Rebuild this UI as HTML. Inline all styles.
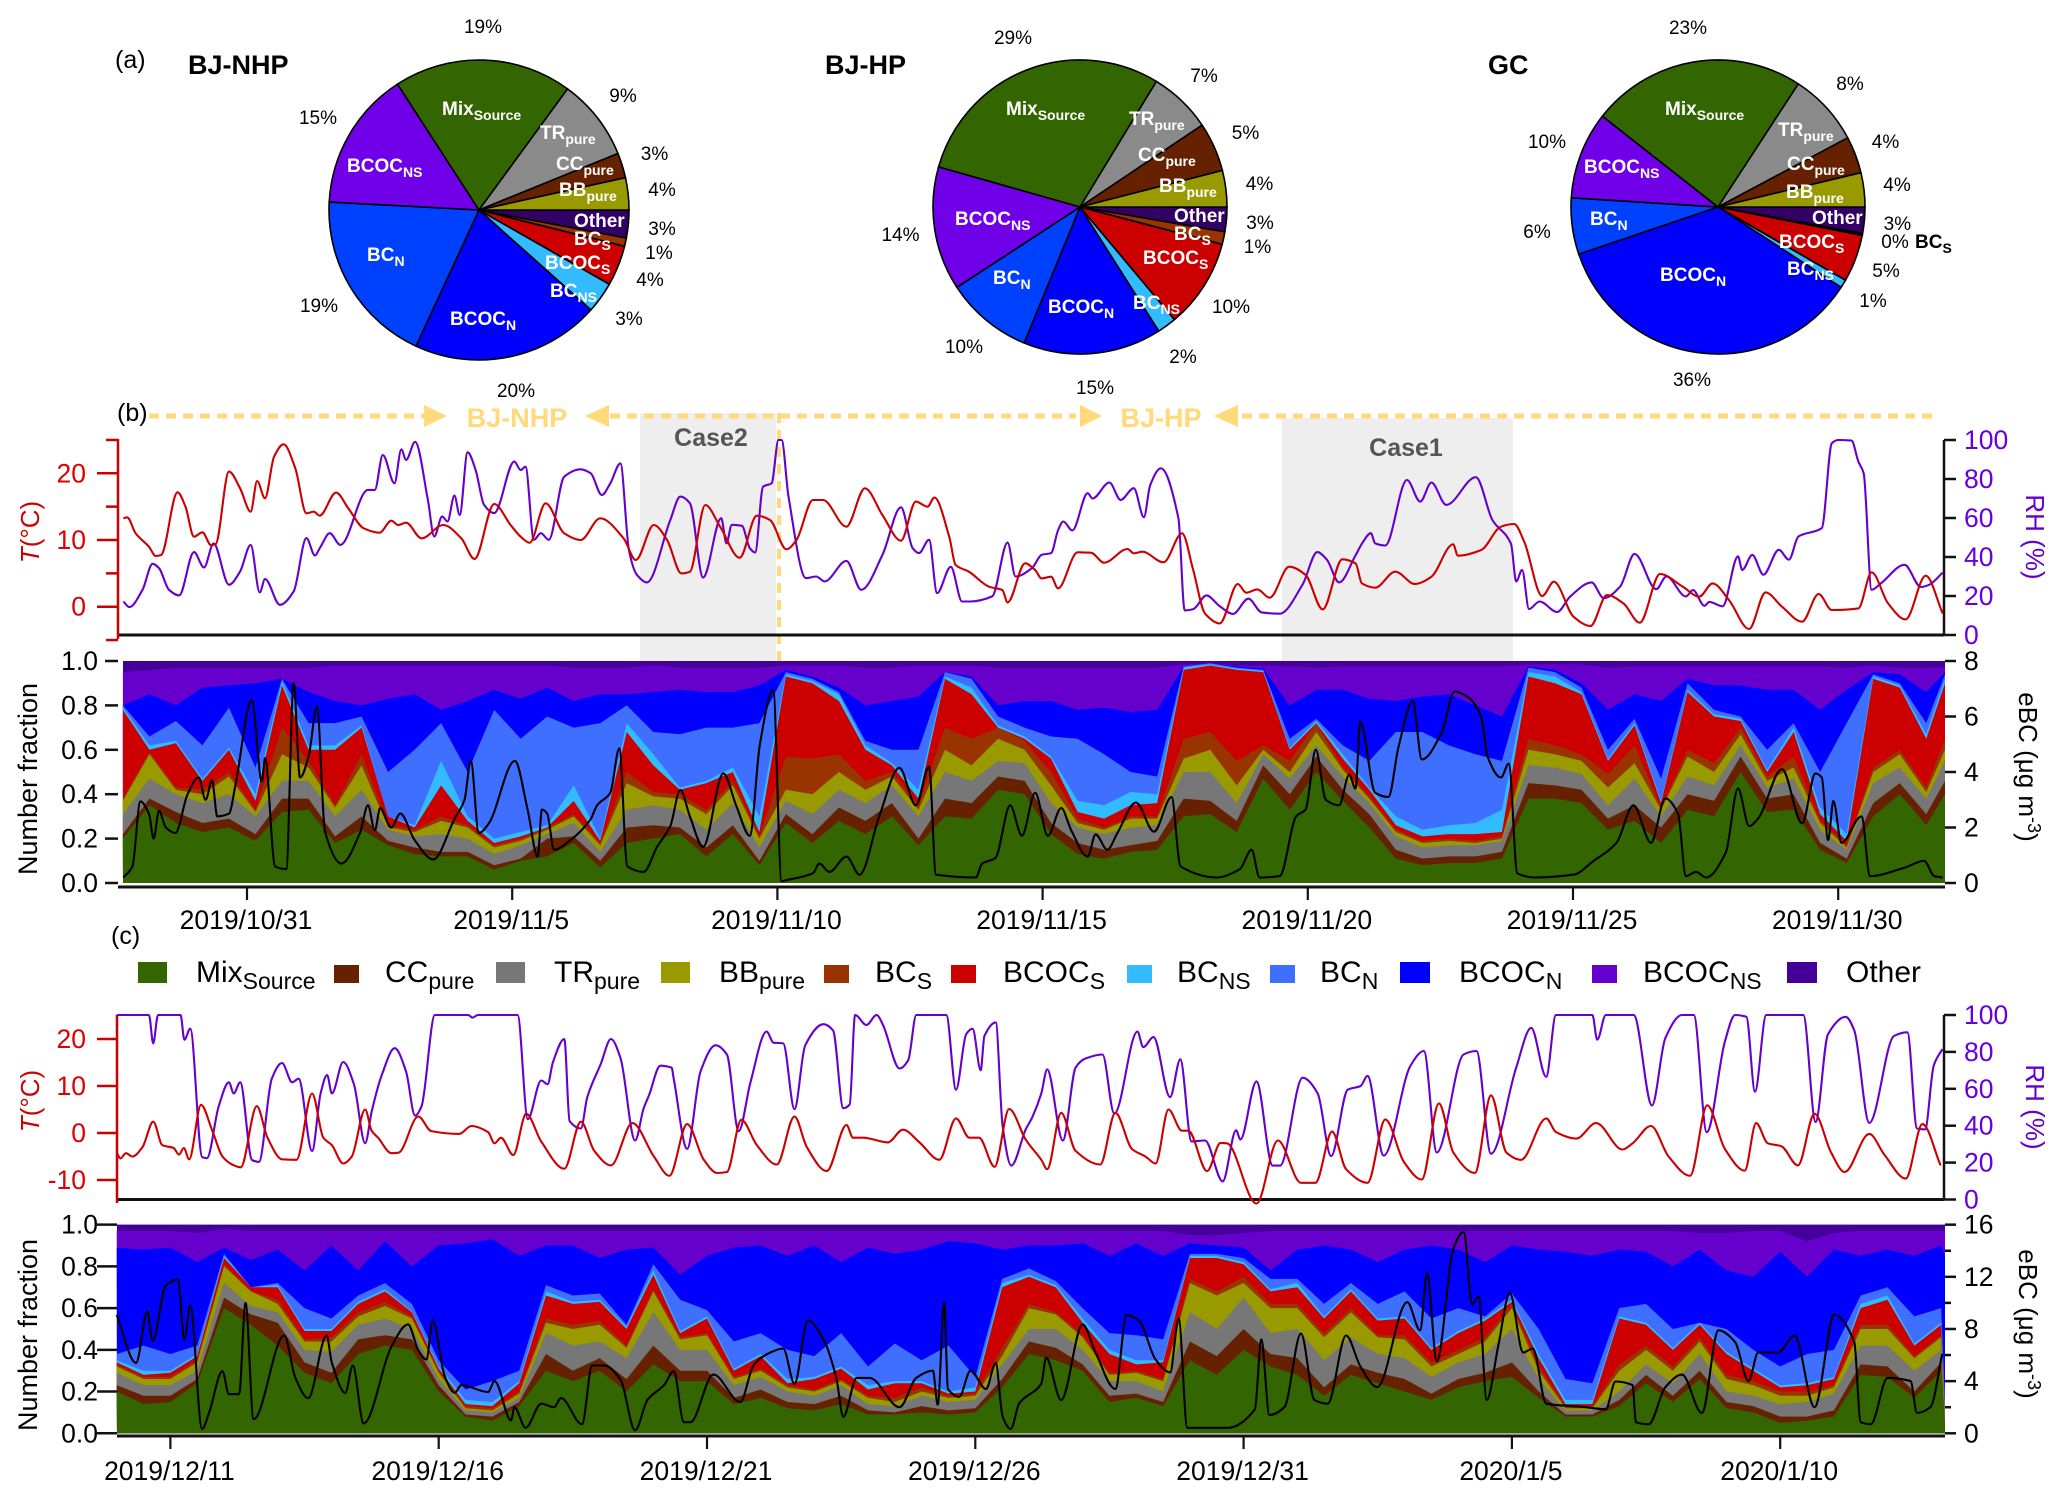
<!DOCTYPE html>
<html lang="en"><head><meta charset="utf-8"><title>BC mixing state time series</title>
<style>
html,body{margin:0;padding:0;background:#fff}
svg{display:block}
text{font-family:"Liberation Sans",sans-serif}
.pc{font-size:19px;fill:#000;text-anchor:middle}
.sl{font-size:19px;font-weight:bold;fill:#fff}
.sl tspan{font-size:14px}
.ttl{font-size:27px;font-weight:bold;fill:#000}
.pl{font-size:25px;fill:#000}
.leg{font-size:30px;fill:#000}
.leg tspan{font-size:23px}
.tick{font-size:26.5px;fill:#000}
.yel{font-size:27px;font-weight:bold;fill:#ffd97a;text-anchor:middle}
.case{font-size:25px;font-weight:bold;fill:#555;text-anchor:middle}
.axt{font-size:26px;text-anchor:middle}
</style></head><body>
<svg id="fig" xmlns="http://www.w3.org/2000/svg" width="2067" height="1499" viewBox="0 0 2067 1499">
<g id="pies"></g>
<g>
<text class="pl" x="115" y="68">(a)</text>
<text class="ttl" x="188" y="74">BJ-NHP</text>
<text class="ttl" x="825" y="74">BJ-HP</text>
<text class="ttl" x="1488" y="74">GC</text>
</g>
<g>
<text class="sl" x="442" y="115">Mix<tspan dy="5">Source</tspan></text>
<text class="sl" x="540" y="139">TR<tspan dy="5">pure</tspan></text>
<text class="sl" x="556" y="170">CC<tspan dy="5">pure</tspan></text>
<text class="sl" x="559" y="196">BB<tspan dy="5">pure</tspan></text>
<text class="sl" x="574" y="227">Other</text>
<text class="sl" x="574" y="245">BC<tspan dy="5">S</tspan></text>
<text class="sl" x="545" y="269">BCOC<tspan dy="5">S</tspan></text>
<text class="sl" x="550" y="297">BC<tspan dy="5">NS</tspan></text>
<text class="sl" x="450" y="325">BCOC<tspan dy="5">N</tspan></text>
<text class="sl" x="367" y="261">BC<tspan dy="5">N</tspan></text>
<text class="sl" x="347" y="172">BCOC<tspan dy="5">NS</tspan></text>
</g>
<g>
<text class="sl" x="1006" y="115">Mix<tspan dy="5">Source</tspan></text>
<text class="sl" x="1129" y="125">TR<tspan dy="5">pure</tspan></text>
<text class="sl" x="1138" y="161">CC<tspan dy="5">pure</tspan></text>
<text class="sl" x="1159" y="192">BB<tspan dy="5">pure</tspan></text>
<text class="sl" x="1174" y="222">Other</text>
<text class="sl" x="1174" y="240">BC<tspan dy="5">S</tspan></text>
<text class="sl" x="1143" y="264">BCOC<tspan dy="5">S</tspan></text>
<text class="sl" x="1133" y="309">BC<tspan dy="5">NS</tspan></text>
<text class="sl" x="1048" y="313">BCOC<tspan dy="5">N</tspan></text>
<text class="sl" x="993" y="284">BC<tspan dy="5">N</tspan></text>
<text class="sl" x="955" y="225">BCOC<tspan dy="5">NS</tspan></text>
</g>
<g>
<text class="sl" x="1665" y="115">Mix<tspan dy="5">Source</tspan></text>
<text class="sl" x="1778" y="136">TR<tspan dy="5">pure</tspan></text>
<text class="sl" x="1787" y="170">CC<tspan dy="5">pure</tspan></text>
<text class="sl" x="1786" y="198">BB<tspan dy="5">pure</tspan></text>
<text class="sl" x="1812" y="224">Other</text>
<text class="sl" x="1779" y="248">BCOC<tspan dy="5">S</tspan></text>
<text class="sl" x="1787" y="275">BC<tspan dy="5">NS</tspan></text>
<text class="sl" x="1660" y="281">BCOC<tspan dy="5">N</tspan></text>
<text class="sl" x="1590" y="225">BC<tspan dy="5">N</tspan></text>
<text class="sl" x="1584" y="173">BCOC<tspan dy="5">NS</tspan></text>
<text class="sl" style="fill:#000" x="1915" y="248">BC<tspan dy="5">S</tspan></text>
</g>
<g id="pct"></g>

<rect x="640" y="413" width="136" height="248" fill="#eeeeee"/>
<rect x="1282" y="418" width="231" height="243" fill="#eeeeee"/>
<line x1="779" y1="413" x2="779" y2="661" stroke="#ffd97a" stroke-width="4" stroke-dasharray="10 7"/>
<g>
<line x1="149" y1="416" x2="426" y2="416" stroke="#ffd97a" stroke-width="5" stroke-dasharray="10 7"/>
<polygon points="424,405 447,416 424,427" fill="#ffd97a"/>
<text class="yel" x="517" y="427">BJ-NHP</text>
<polygon points="609,405 585,416 609,427" fill="#ffd97a"/>
<line x1="610" y1="416" x2="1076" y2="416" stroke="#ffd97a" stroke-width="5" stroke-dasharray="10 7"/>
<polygon points="1080,405 1102,416 1080,427" fill="#ffd97a"/>
<text class="yel" x="1161" y="427">BJ-HP</text>
<polygon points="1238,405 1214,416 1238,427" fill="#ffd97a"/>
<line x1="1242" y1="416" x2="1932" y2="416" stroke="#ffd97a" stroke-width="5" stroke-dasharray="10 7"/>
</g>
<text class="pl" x="117" y="421">(b)</text>
<text class="pl" x="111" y="944">(c)</text>
<text class="case" x="711" y="446">Case2</text>
<text class="case" x="1406" y="456">Case1</text>

<g id="stackB"></g>
<g id="stackC"></g>
<g id="axes"></g>
<g id="linesB"></g>
<g id="linesC"></g>

<g>
<text class="axt" fill="#cc0000" transform="translate(39,532) rotate(-90)"><tspan font-style="italic">T</tspan>(°C)</text>
<text class="axt" fill="#6600cc" transform="translate(2026,537) rotate(90)">RH (%)</text>
<text class="axt" fill="#000" style="font-size:27px" transform="translate(37,779) rotate(-90)">Number fraction</text>
<text class="axt" fill="#000" transform="translate(2019,767) rotate(90)">eBC (μg m<tspan dy="-9" font-size="18">-3</tspan><tspan dy="9">)</tspan></text>
<text class="axt" fill="#cc0000" transform="translate(39,1101) rotate(-90)"><tspan font-style="italic">T</tspan>(°C)</text>
<text class="axt" fill="#6600cc" transform="translate(2026,1107) rotate(90)">RH (%)</text>
<text class="axt" fill="#000" style="font-size:27px" transform="translate(37,1335) rotate(-90)">Number fraction</text>
<text class="axt" fill="#000" transform="translate(2019,1324) rotate(90)">eBC (μg m<tspan dy="-9" font-size="18">-3</tspan><tspan dy="9">)</tspan></text>
</g>

<g>
<rect x="138" y="962" width="29" height="21" fill="#336600"/>
<text class="leg" x="196" y="982">Mix<tspan dy="7">Source</tspan></text>
<rect x="334" y="965" width="25" height="18" fill="#662200"/>
<text class="leg" x="385" y="982">CC<tspan dy="7">pure</tspan></text>
<rect x="496" y="962" width="29" height="21" fill="#777777"/>
<text class="leg" x="554" y="982">TR<tspan dy="7">pure</tspan></text>
<rect x="661" y="962" width="29" height="21" fill="#999900"/>
<text class="leg" x="719" y="982">BB<tspan dy="7">pure</tspan></text>
<rect x="824" y="965" width="25" height="18" fill="#993300"/>
<text class="leg" x="875" y="982">BC<tspan dy="7">S</tspan></text>
<rect x="951" y="965" width="25" height="18" fill="#cc0000"/>
<text class="leg" x="1003" y="982">BCOC<tspan dy="7">S</tspan></text>
<rect x="1127" y="965" width="25" height="18" fill="#33bbff"/>
<text class="leg" x="1177" y="982">BC<tspan dy="7">NS</tspan></text>
<rect x="1270" y="965" width="25" height="18" fill="#3f6fff"/>
<text class="leg" x="1320" y="982">BC<tspan dy="7">N</tspan></text>
<rect x="1400" y="962" width="30" height="21" fill="#0000ff"/>
<text class="leg" x="1459" y="982">BCOC<tspan dy="7">N</tspan></text>
<rect x="1592" y="965" width="25" height="18" fill="#6600cc"/>
<text class="leg" x="1643" y="982">BCOC<tspan dy="7">NS</tspan></text>
<rect x="1787" y="962" width="30" height="21" fill="#440099"/>
<text class="leg" x="1846" y="982">Other</text>
</g>
</svg>
<script>
// ---------- pie data (unrounded shares measured from the slices, clockwise from east) ----------
const pieClasses=["Other","BCs","BCOCs","BCNS","BCOCN","BCN","BCOCNS","Mix","TR","CC","BB"];
const pie1Values=[3,.9,4.35,3.35,20.3,18.95,15,19.2,8.8,2.7,3.45];
const pie2Values=[2.7,1.4,9.8,2.1,15.2,9.6,13.6,29.3,6.9,5.4,4];
const pie3Values=[2.9,.2,5.2,.9,35.6,6.2,9.6,23.6,8,4.05,3.75];

// ---------- panel b: temperature, RH, eBC (day offset from 2019/10/31) ----------
const bTempDays=[-2.33,-2.26,-2.10,-1.85,-1.72,-1.62,-1.31,-1.16,-1.0,-.84,-.68,-.59,-.34,-.13,.07,.19,.34,.51,.69,.91,1.12,1.26,1.37,1.68,1.91,2.2,2.5,2.72,2.85,3.0,3.29,3.7,4.04,4.29,4.66,4.97,5.16,5.33,5.63,5.98,6.29,6.66,7.1,7.33,7.67,7.92,8.19,8.35,8.64,8.92,9.29,9.61,9.86,10.17,10.36,10.67,10.86,11.3,11.65,11.98,12.33,12.61,12.83,12.96,13.24,13.36,13.61,13.99,14.24,14.34,14.67,14.86,14.98,15.16,15.29,15.66,15.91,16.16,16.6,16.72,16.88,17.28,17.63,17.84,18.06,18.34,18.68,18.84,19.05,19.28,19.65,19.96,20.28,20.65,20.9,21.02,21.27,21.65,22.02,22.33,22.74,22.83,23.27,23.64,23.89,24.08,24.42,24.64,25.01,25.33,25.64,25.95,26.26,26.64,27.07,27.38,27.63,27.94,28.32,28.63,28.94,29.32,29.63,29.88,30.38,30.63,30.94,31.27,31.65,31.97];
const bTemp=[13.25,13.4,11,9,7.6,7.75,17.15,15,10.5,11.15,9.25,9.4,20.25,17.75,14.25,18.85,16.25,22.5,24.35,20.75,14,14.25,13.65,17.1,14.75,11.75,11.1,12.9,12.25,12.6,10.25,12.25,10.25,7.15,15.4,12.25,10.5,9.6,15.5,11,10,13.25,10.25,7,12.25,10,5,5.25,15.25,12,7.35,13.65,13,8.6,10,16,16,12,17.75,13.75,9.9,15.75,15,16.35,10.5,6.25,5.25,3,2.5,.65,6.5,5.5,4.25,4.5,2.75,8.15,8.1,6.6,8.65,8,8.25,6.65,11,5.5,-1,-2.5,3.4,2.1,2.6,1.35,6,4.75,-.4,7.1,6.5,3.5,2.85,5.25,3.4,4.5,9.35,7.65,8.5,12,12.4,9.75,1.6,3.75,-1.5,-2.9,1.75,.5,-2.4,4.9,3,1.5,3.5,1,-3.35,2.15,0,-2.25,1.9,-.5,-.25,5.15,.5,-1.9,4.65,-1];
const bRhDays=[-2.33,-2.22,-1.97,-1.78,-1.66,-1.47,-1.28,-1,-.81,-.63,-.34,-.13,.07,.24,.34,.62,.88,1.12,1.28,1.38,1.56,1.76,2.28,2.41,2.56,2.78,2.91,3.0,3.17,3.41,3.53,3.68,3.78,3.91,4.01,4.16,4.31,4.47,4.66,5.04,5.16,5.25,5.41,5.54,5.69,5.98,6.29,6.48,6.69,6.85,7.04,7.2,7.35,7.54,7.98,8.17,8.35,8.6,8.94,9.04,9.14,9.33,9.48,9.58,9.73,9.89,10.02,10.08,10.21,10.54,10.73,10.89,11.3,11.58,11.98,12.33,12.55,12.67,12.86,13.01,13.27,13.48,13.63,14.05,14.34,14.49,14.8,14.98,15.16,15.29,15.39,15.56,15.85,15.94,16.26,16.47,16.72,16.91,17.03,17.23,17.56,17.68,17.84,18.09,18.34,18.59,18.88,19.13,19.47,19.9,20.18,20.36,20.59,20.9,21.02,21.19,21.27,21.46,21.87,22.12,22.33,22.61,23.17,23.48,23.83,23.93,24.04,24.17,24.37,24.7,24.95,25.35,25.58,25.89,26.16,26.57,26.76,27.13,27.26,27.48,27.57,27.82,28.11,28.19,28.38,28.59,28.88,29.07,29.25,29.69,29.88,30,30.25,30.38,30.48,30.63,30.81,31.25,31.56,31.72,31.97];
const bRh=[17.2,14.3,23.2,36.5,34.3,23.2,20.3,42.5,34.6,47,25.8,32.6,46.2,21.8,28.7,15.5,22.4,49.7,40.8,44.9,52.2,46.2,74.4,74.4,92.3,77.8,95.2,89.8,99.1,69.3,50.5,60.8,58.2,71.5,61.6,93.7,84.6,66.7,62.5,88.9,84.6,86.3,48.8,52.2,48.8,81.2,85,82.9,71.8,77.8,88,43.7,30.9,27,59,71,67.6,29.5,59.9,47,56.5,56,44.5,42.3,76.1,77.8,100,100,71,29.2,30,27.5,38,23.2,41,65.5,44.5,42,48.8,21.5,35,17.2,17.2,19.8,47.4,30,34.3,41.1,42,53.6,58.2,53.6,72.7,70,78.2,69.3,75.3,60.4,77,85.5,59.9,12.6,13.3,20.3,14.7,10.8,18.6,11.6,10.9,25.8,42.5,38.6,27,40.8,46.8,52.2,47,45.9,79.5,68.4,78.2,66.7,80.9,59,47,27.5,33.4,13.3,17.2,11.8,19.8,27,18.9,24.9,41.6,23.5,30,19.8,23,15,17,14.7,40.3,33.4,41.1,30.9,43.7,38.6,50.5,54.8,98.3,100,99.7,88.9,82.9,23.2,26.6,36,24.6,25.8,32];
const bEbcDays=[-2.33,-2.16,-2.01,-1.85,-1.76,-1.66,-1.53,-1.35,-1.12,-.91,-.78,-.66,-.56,-.34,-.22,.09,.28,.34,.53,.74,.88,1.0,1.16,1.32,1.47,1.78,2.13,2.28,2.41,2.51,2.72,2.89,3.16,3.51,3.91,4.1,4.22,4.37,4.56,5.05,5.29,5.48,5.56,5.66,5.79,6.1,6.48,6.6,6.85,7.02,7.17,7.48,7.73,7.98,8.17,8.35,8.6,8.98,9.23,9.48,9.67,9.92,10.08,10.17,10.67,10.79,10.98,11.3,11.55,11.92,12.3,12.61,12.86,12.99,13.74,13.86,14.11,14.39,14.61,14.86,15.1,15.35,15.54,15.85,16.0,16.22,16.41,16.76,17.1,17.43,17.6,18.28,18.72,18.94,19.09,19.47,19.78,19.96,20.15,20.34,20.59,20.78,20.9,20.99,21.27,21.52,21.71,21.98,22.15,22.52,22.77,23.02,23.27,23.39,23.64,23.79,23.95,24.27,25.01,25.39,25.82,26.14,26.47,26.74,26.98,27.13,27.32,27.51,27.88,28.11,28.32,28.5,28.94,29.32,29.57,29.69,29.81,29.91,30.06,30.44,30.6,31.25,31.62,31.81,31.97];
const bEbc=[.2,.6,2.94,2.5,1.6,2.6,2.0,1.8,3.2,3.8,3,3.7,2.4,2.5,3.5,6.6,3.65,4.5,.6,.5,7.2,3.8,4.55,6.35,1.85,.7,1.8,2.8,1.9,2.7,2,2.5,1.55,.85,2.3,3,4.4,1.8,2.15,4.4,2.65,.95,2.65,2.5,1.2,1.55,2.3,2.8,3.25,4.85,.6,.4,1.3,2.05,3.35,2.4,1.3,3.95,2.75,1.7,5,6.95,.06,.1,.35,.7,.4,.95,.3,2.4,4.15,2.8,4.2,.3,.2,.7,.9,2.8,1.7,3.25,1.7,2.7,1.9,.95,1.75,1.2,1.8,2.9,1.85,3.1,.6,.2,.5,1.2,.2,.25,2.4,2.65,4.8,3,2.8,3.9,3.4,5.8,3.25,3.1,4.9,6.55,4.45,5.4,6.9,6.7,6,4.55,3.8,4.3,.35,.2,.3,.8,1.45,2.8,1.45,3.05,2.5,.25,.4,.2,1.1,3.4,2.05,2.35,4.1,2.15,3.95,3.8,1.55,2.95,1.45,2.4,.25,.55,.8,.25,.2];

// panel b stack: cumulative upper edge of each class, sampled every half day
const bStackStart=-2.34;
const bMix=[.20,.35,.27,.23,.25,.19,.32,.33,.18,.24,.17,.13,.12,.12,.06,.10,.12,.18,.07,.18,.20,.22,.12,.22,.08,.27,.18,.28,.22,.30,.17,.30,.29,.42,.40,.22,.13,.11,.14,.15,.30,.31,.23,.47,.33,.50,.37,.25,.11,.08,.09,.09,.11,.38,.38,.36,.24,.28,.18,.33,.30,.50,.32,.33,.15,.09,.30,.40,.26,.40];
const bCc=[.22,.38,.32,.27,.29,.22,.38,.38,.21,.30,.19,.16,.14,.14,.08,.11,.20,.21,.10,.25,.26,.25,.16,.26,.10,.31,.22,.34,.28,.36,.20,.38,.36,.48,.46,.27,.18,.15,.17,.19,.38,.37,.28,.53,.40,.57,.42,.31,.15,.11,.12,.12,.14,.45,.44,.42,.29,.35,.25,.40,.37,.57,.38,.40,.18,.11,.36,.45,.31,.46];
const bTr=[.31,.47,.40,.36,.40,.30,.46,.46,.30,.42,.24,.21,.22,.20,.13,.17,.22,.27,.14,.33,.35,.33,.24,.36,.16,.37,.31,.42,.36,.44,.30,.50,.46,.55,.54,.36,.25,.22,.25,.26,.50,.50,.36,.58,.47,.62,.48,.36,.21,.16,.17,.17,.19,.53,.52,.49,.35,.47,.30,.48,.44,.62,.43,.47,.24,.15,.45,.52,.38,.55];
const bBb=[.37,.58,.42,.40,.48,.32,.58,.52,.34,.53,.25,.23,.28,.25,.16,.19,.24,.30,.17,.45,.39,.38,.31,.44,.20,.42,.40,.50,.42,.48,.33,.60,.53,.65,.60,.44,.27,.24,.29,.29,.56,.60,.44,.60,.50,.68,.51,.38,.23,.18,.19,.18,.20,.60,.58,.55,.43,.54,.33,.57,.50,.67,.46,.52,.27,.16,.50,.58,.41,.60];
const bBcs=[.38,.59,.43,.42,.50,.33,.70,.55,.35,.58,.26,.24,.30,.26,.17,.20,.25,.31,.18,.50,.41,.40,.33,.46,.21,.57,.56,.58,.46,.50,.35,.70,.65,.70,.64,.50,.29,.25,.30,.30,.65,.68,.55,.62,.55,.72,.52,.39,.24,.19,.20,.19,.21,.65,.62,.58,.49,.62,.34,.60,.54,.70,.48,.57,.28,.17,.52,.60,.43,.65];
const bBcocs=[.78,.60,.63,.46,.60,.37,.89,.60,.60,.70,.30,.25,.44,.28,.18,.21,.25,.37,.19,.68,.53,.42,.45,.50,.23,.93,.90,.82,.60,.53,.38,.92,.85,.70,.65,.56,.32,.29,.35,.36,.96,.98,.96,.95,.60,.72,.56,.42,.26,.21,.22,.22,.23,.93,.90,.85,.55,.71,.36,.86,.75,.73,.50,.68,.31,.19,.92,.88,.65,.90];
const bBcns=[.79,.62,.64,.47,.61,.40,.91,.62,.62,.71,.30,.26,.55,.30,.20,.23,.26,.44,.20,.72,.58,.43,.46,.52,.30,.94,.91,.85,.62,.54,.42,.93,.88,.71,.66,.57,.37,.35,.41,.40,.97,.985,.965,.955,.61,.73,.58,.43,.30,.24,.26,.27,.33,.95,.93,.86,.56,.72,.37,.87,.76,.74,.51,.70,.34,.22,.93,.89,.67,.92];
const bBcn=[.80,.66,.73,.62,.79,.52,.92,.72,.72,.75,.50,.60,.72,.50,.78,.65,.75,.70,.72,.80,.68,.67,.70,.70,.72,.95,.92,.86,.64,.60,.60,.95,.92,.75,.70,.66,.65,.58,.50,.48,.975,.99,.97,.96,.65,.74,.62,.55,.68,.68,.62,.58,.55,.97,.95,.88,.60,.74,.47,.90,.78,.75,.60,.72,.50,.72,.94,.90,.72,.94];
const bBcocn=[.80,.85,.80,.88,.89,.90,.92,.86,.82,.80,.83,.85,.78,.82,.87,.83,.88,.82,.85,.85,.86,.87,.86,.86,.89,.96,.93,.88,.80,.82,.84,.95,.93,.80,.82,.82,.78,.79,.77,.78,.975,.99,.975,.965,.80,.87,.87,.83,.82,.84,.85,.80,.75,.975,.96,.90,.78,.85,.82,.92,.89,.89,.87,.87,.78,.87,.95,.94,.86,.95];
const bBcocns=[.95,.96,.97,.97,.97,.97,.97,.97,.98,.98,.98,.98,.98,.98,.98,.98,.98,.97,.97,.97,.98,.97,.97,.97,.97,.98,.98,.98,.97,.97,.98,.98,.98,.97,.97,.97,.97,.97,.97,.97,.985,.99,.98,.98,.975,.97,.975,.975,.975,.975,.975,.975,.975,.985,.985,.985,.97,.975,.975,.975,.975,.975,.975,.975,.975,.97,.98,.97,.97,.97];

// ---------- panel c: temperature, RH, eBC (day offset from 2019/12/11) ----------
const cTempDays=[-1.0,-.93,-.83,-.71,-.52,-.32,-.15,.06,.16,.25,.35,.57,.78,.97,1.15,1.31,1.61,1.81,2.08,2.35,2.64,2.85,3.01,3.22,3.38,3.63,3.75,3.87,4.12,4.25,4.62,4.86,5.38,5.61,5.92,6.04,6.16,6.39,6.63,6.91,7.34,7.65,7.9,8.21,8.61,9.01,9.3,9.63,9.94,10.19,10.37,10.64,10.93,11.3,11.63,11.86,12.23,12.6,12.72,12.91,13.37,13.65,13.96,14.33,14.64,14.89,15.07,15.36,15.63,15.94,16.23,16.34,16.6,16.87,17.33,17.61,17.92,18.17,18.36,18.6,18.85,18.97,19.32,19.57,19.69,20.24,20.64,21.07,21.34,21.65,21.91,22.31,22.64,22.99,23.32,23.64,23.91,24.31,24.61,24.9,25.17,25.64,25.82,26.2,26.57,27.06,27.25,27.59,27.92,28.32,28.64,28.97,29.34,29.55,29.77,30.02,30.33,30.64,30.95,31.2,31.66,31.94,32.34,32.65,32.99];
const cTemp=[-4.2,-5.4,-4.3,-5,-3,2.4,-2.6,-3.2,-4.6,-3.2,-5.6,6,.5,-5,-6.7,-7.3,5.7,-1,-5.6,-5.7,8.4,-1,-2.6,-6.5,-5,5,.5,-1,-4.3,-4.2,3.5,.4,-.2,1.5,.2,-2.2,-1,-4.7,4.1,-1.8,-7.6,2.4,-3.8,-6.9,2.1,-5,-9.1,1.9,-5.7,-8.5,-8.3,2.8,-2.6,-6.7,3.5,-3,-8.1,1.7,-1,-1,-2,.7,-2,-5.7,3.1,-1,-1,-7.2,5.1,-1.4,-5.7,-7.7,4.3,-3.8,-6.7,4.3,-3.4,-5,-6.5,5,.5,.5,-8.1,-2.1,-2.2,-15,-1.6,-10.6,-10.6,.3,-7.7,-10.6,2.9,-6.2,-9.9,6.3,-4.2,-8.5,8,-4.2,-5.7,3.1,.2,-1.2,2.1,-3.5,-2.2,1.5,-5,-9.1,5.9,-3.4,-8,2.1,-2.2,-2.8,-6.9,4.1,-4.2,-8.3,-.2,-4.6,-9.7,1.9,-6.9];
const cRhDays=[-1,-.4,-.32,-.23,.19,.26,.37,.59,.68,.9,1.09,1.18,1.3,1.52,1.65,1.89,2.08,2.27,2.39,2.64,2.8,2.92,3.01,3.22,3.42,3.63,3.75,3.94,4.18,4.39,4.56,4.68,4.93,5.55,5.63,5.73,6.47,6.66,6.91,7.03,7.13,7.34,7.44,7.65,7.77,8.02,8.21,8.39,8.66,8.82,8.92,9.13,9.34,9.38,9.63,9.88,10.16,10.37,10.59,10.81,11.11,11.24,11.42,11.63,11.83,12.17,12.35,12.54,12.66,12.76,12.97,13.16,13.28,13.59,13.75,13.9,14.46,14.64,14.83,14.95,15.1,15.17,15.38,15.51,15.67,15.94,16.06,16.23,16.34,16.63,16.87,17.06,17.37,17.59,18.02,18.13,18.32,18.63,18.82,19.03,19.28,19.61,19.86,19.94,20.24,20.54,20.68,21.1,21.38,21.63,21.94,22.18,22.31,22.61,23.11,23.36,23.6,24.1,24.34,24.61,25.08,25.36,25.64,25.82,26.5,26.59,26.75,27.27,27.61,27.86,28.17,28.39,28.63,28.97,29.16,29.37,29.53,29.74,30.43,30.66,30.89,31.22,31.38,31.66,32.12,32.37,32.55,32.7,32.86,33.02];
const cRh=[100,100,84.6,100,100,86.6,92.6,23,22.4,50.5,63.5,57.5,63.5,21.4,20.4,65.5,74,63.5,65.5,26.3,57.5,67.5,57.5,74.5,62.5,30.5,47.5,67.5,82,69.5,45.5,50.5,100,100,98.6,100,100,43.5,64.5,62.5,74.5,87,42.5,38.5,55.5,73.5,87,76.5,32,49.5,56.5,72.5,71.5,65.5,27.5,69.5,83.6,78.6,37,63.5,91,85,84.6,49,83.6,95,91.6,49.5,51.5,100,94.6,100,94.6,71,75.5,100,100,59.5,89.6,92.6,70,88.6,96,39.5,18.4,38,44.5,57.5,70.5,32,71.5,76.5,78.6,46.5,91,82.6,88,55.5,76,31.5,32,9.8,37.5,32.5,64,18.4,18.4,66,57.5,23.5,59.5,61.5,67,23.8,72.5,80.5,25.5,78.6,80.5,24.8,71.5,93,66.5,100,100,86.6,100,100,51,87.6,100,100,36.5,85.6,100,99,58.5,100,100,42,89.6,99,91.6,41.5,88.6,90.6,38.5,38,72.5,81.5];
const cEbcDays=[-1,-.64,-.43,-.33,-.09,.14,.26,.37,.59,.72,.97,1.09,1.28,1.4,1.55,2.12,2.33,2.57,2.91,3.01,3.26,3.4,3.6,4.12,4.43,4.62,4.77,4.89,5.11,5.3,5.42,5.92,6.04,6.35,6.41,6.62,6.91,7.15,7.28,7.67,7.86,8.08,8.39,8.66,8.89,9.2,9.38,9.57,9.69,10.12,10.62,10.87,11.18,11.42,11.63,11.88,12.17,12.41,12.54,12.79,13.03,13.59,13.9,14.21,14.3,14.42,14.49,14.7,14.91,15.2,15.38,15.51,15.66,15.82,16.23,16.32,16.6,17,17.24,17.61,17.82,18.05,18.36,18.63,18.79,18.95,19.41,19.71,20.21,20.33,20.48,20.76,21.07,21.32,21.57,21.91,22.18,22.49,23.05,23.29,23.42,23.6,23.91,24.1,24.26,24.38,24.53,24.75,24.96,25.21,25.39,25.64,26.38,26.75,26.93,27.25,27.31,27.55,27.86,28.17,28.54,28.85,29.16,29.41,29.59,29.96,30.27,30.64,31.01,31.38,31.5,31.69,32,32.43,32.55,32.8,33.02];
const cEbc=[9.07,5.4,9.35,7.1,11.3,11.8,7.2,9.8,.34,1.56,4.76,3,3,10,1.08,7.5,4.25,2.7,7.5,5.4,3.1,5.2,.76,6.66,8.35,6.37,5.66,8.64,4.4,3.1,3.7,3.17,4,1,2,.42,2.27,2,2.7,.7,5.2,5.2,4.1,.23,2.55,3.7,4.76,.85,.85,4.5,2.4,5.24,6.2,6.5,3.8,8.64,7.2,4.25,1.27,4.25,4.25,2,4.25,4.8,2.2,10,3.4,2.8,4.8,3.4,5.4,1.27,.34,2.3,3.8,5.8,2.55,8.35,6.2,3.4,9.07,8.64,5.66,4.67,8.8,.42,.42,.42,1.84,7.2,1.4,2,7.65,2.55,2.27,7.5,5.1,3.54,10.05,7.9,12.3,5.52,14.16,15.44,9.9,10.5,2.55,6.8,10.76,6.2,6.5,2.27,2,1.84,3.97,3.7,.85,.7,3.54,4.5,1.56,7.9,7,4,6.2,6.2,7.5,2,9.1,7,.85,.7,4.25,4,1.56,2,6.1];

// panel c stack: cumulative upper edge of each class, sampled every half day
const cStackStart=-1;
const cMix=[.20,.14,.15,.24,.60,.52,.42,.29,.24,.38,.42,.40,.20,.08,.06,.13,.30,.25,.30,.20,.33,.25,.25,.14,.17,.12,.11,.14,.09,.09,.10,.09,.10,.22,.38,.35,.30,.15,.17,.13,.35,.28,.40,.32,.28,.18,.28,.24,.20,.16,.22,.25,.27,.17,.08,.08,.13,.24,.15,.26,.12,.10,.05,.06,.08,.28,.27,.17,.30,.03];
const cCc=[.23,.18,.18,.26,.65,.57,.53,.34,.29,.45,.47,.45,.23,.09,.08,.15,.38,.30,.36,.26,.42,.30,.30,.17,.21,.15,.14,.18,.11,.10,.13,.11,.12,.26,.44,.41,.33,.18,.19,.15,.44,.37,.50,.38,.36,.22,.33,.29,.26,.19,.26,.29,.34,.20,.09,.09,.16,.28,.18,.30,.15,.13,.08,.08,.11,.33,.32,.20,.34,.04];
const cTr=[.29,.23,.23,.30,.72,.61,.58,.40,.39,.52,.55,.50,.26,.11,.10,.17,.48,.42,.44,.36,.58,.40,.40,.23,.27,.20,.18,.23,.14,.13,.18,.15,.16,.33,.50,.50,.40,.25,.25,.20,.58,.50,.65,.48,.50,.35,.46,.38,.36,.27,.34,.38,.50,.26,.11,.11,.20,.33,.24,.38,.20,.18,.14,.15,.19,.42,.42,.30,.40,.06];
const cBb=[.32,.26,.26,.34,.80,.68,.62,.44,.44,.56,.61,.55,.29,.12,.11,.19,.53,.50,.52,.41,.68,.45,.47,.26,.30,.22,.20,.25,.17,.15,.20,.17,.18,.37,.60,.57,.46,.28,.29,.25,.72,.66,.72,.60,.60,.46,.58,.46,.45,.32,.38,.44,.60,.30,.12,.12,.30,.40,.30,.44,.26,.23,.18,.18,.22,.50,.50,.36,.46,.08];
const cBcs=[.33,.27,.27,.35,.81,.68,.64,.45,.46,.58,.63,.56,.30,.13,.12,.20,.55,.52,.54,.42,.69,.46,.48,.27,.31,.23,.21,.26,.18,.17,.22,.18,.19,.41,.62,.58,.47,.29,.30,.26,.74,.68,.75,.62,.62,.48,.60,.47,.47,.34,.40,.46,.62,.32,.13,.13,.33,.42,.32,.46,.28,.25,.20,.20,.23,.52,.52,.37,.47,.09];
const cBcocs=[.34,.28,.29,.37,.84,.70,.70,.49,.49,.62,.68,.58,.31,.14,.13,.24,.66,.62,.63,.50,.76,.48,.55,.30,.37,.24,.26,.31,.21,.24,.24,.19,.20,.70,.75,.70,.53,.38,.33,.34,.84,.84,.81,.68,.70,.55,.68,.54,.55,.40,.48,.54,.63,.36,.14,.14,.55,.52,.40,.52,.38,.30,.22,.23,.26,.60,.64,.42,.52,.10];
const cBcns=[.35,.30,.30,.38,.85,.70,.71,.50,.50,.63,.69,.585,.32,.16,.15,.25,.68,.63,.64,.51,.78,.49,.56,.31,.38,.26,.27,.32,.23,.25,.25,.20,.22,.72,.76,.71,.55,.40,.35,.35,.85,.85,.82,.69,.72,.56,.69,.55,.56,.41,.49,.55,.64,.38,.16,.16,.56,.53,.41,.53,.39,.31,.23,.24,.27,.62,.66,.43,.53,.11];
const cBcn=[.38,.42,.38,.42,.86,.70,.72,.60,.55,.66,.72,.62,.35,.21,.25,.30,.71,.66,.67,.52,.81,.64,.59,.44,.48,.40,.37,.48,.32,.43,.35,.42,.27,.74,.79,.73,.60,.48,.47,.45,.86,.86,.84,.74,.74,.62,.72,.62,.68,.55,.60,.56,.67,.50,.26,.24,.60,.62,.50,.53,.50,.40,.32,.38,.40,.66,.70,.56,.60,.15];
const cBcocn=[.89,.88,.89,.82,.89,.83,.88,.78,.90,.78,.92,.80,.90,.91,.93,.85,.90,.90,.84,.88,.89,.76,.85,.89,.90,.85,.90,.82,.89,.86,.88,.92,.91,.88,.90,.90,.91,.85,.91,.85,.91,.90,.89,.78,.88,.90,.88,.82,.88,.90,.88,.82,.90,.88,.87,.85,.88,.87,.80,.88,.78,.75,.87,.75,.88,.85,.88,.85,.90,.85];
const cBcocns=[.97,.97,.97,.96,.98,.97,.97,.97,.97,.97,.97,.97,.97,.97,.97,.97,.97,.97,.97,.97,.97,.97,.97,.97,.97,.97,.97,.97,.97,.97,.97,.97,.97,.97,.97,.97,.97,.97,.97,.97,.95,.95,.96,.97,.97,.97,.97,.97,.97,.97,.97,.97,.97,.97,.97,.97,.97,.97,.97,.96,.96,.97,.97,.92,.96,.97,.97,.97,.97,.97];

// ---------- tick labels ----------
const bXLabels=["2019/10/31","2019/11/5","2019/11/10","2019/11/15","2019/11/20","2019/11/25","2019/11/30"];
const cXLabels=["2019/12/11","2019/12/16","2019/12/21","2019/12/26","2019/12/31","2020/1/5","2020/1/10"];
const xTickDays=[0,5,10,15,20,25,30];
const cXTickDays=[0,5,10,15,20,25,30];
const fracTicks=[0,0.2,0.4,0.6,0.8,1.0];
const bTempTicks=[0,10,20];
const cTempTicks=[-10,0,10,20];
const rhTicks=[0,20,40,60,80,100];
const bEbcTicks=[0,2,4,6,8];
const cEbcTicks=[0,4,8,12,16];
const cEbcMinor=[2,6,10,14];

// pie percent labels (printed text)
const pie1Labels=["3%","1%","4%","3%","20%","19%","15%","19%","9%","3%","4%"];
const pie2Labels=["3%","1%","10%","2%","15%","10%","14%","29%","7%","5%","4%"];
const pie3Labels=["3%","0%","5%","1%","36%","6%","10%","23%","8%","4%","4%"];

// ---------- axis functions ----------
const xB=d=>247+d*53.04;
const xC=d=>170.4+d*53.66;
const yTB=v=>606.7-v*6.67;
const yRB=v=>635-v*1.95;
const yFB=v=>883-v*222;
const yEB=v=>883-v*27.75;
const yTC=v=>1133-v*4.7;
const yRC=v=>1199.5-v*1.845;
const yFC=v=>1433.3-v*208.7;
const yEC=v=>1433.3-v*13.04;

const NS='http://www.w3.org/2000/svg';
function mk(parent,tag,attrs,name,txt){
  const el=document.createElementNS(NS,tag);
  for(const k in attrs)el.setAttribute(k,attrs[k]);
  
  
  if(txt!==undefined)el.textContent=txt;
  parent.appendChild(el);
  return el;
}
const $=id=>document.getElementById(id);

// ---------- pies ----------
const pieColors=["#330066","#993300","#cc0000","#33bbff","#0000ff","#0040ff","#7000e8","#336600","#8a8a8a","#662200","#999900"];
const pieGeom=[{cx:479,cy:210,r:150,vals:pie1Values,labels:pie1Labels},{cx:1080,cy:207,r:147,vals:pie2Values,labels:pie2Labels},{cx:1718,cy:207,r:147,vals:pie3Values,labels:pie3Labels}];
pieGeom.forEach((p,pi)=>{
  const total=p.vals.reduce((a,b)=>a+b,0);
  let acc=0;
  p.vals.forEach((v,i)=>{
    const a0=acc/total*2*Math.PI; acc+=v;
    const a1=acc/total*2*Math.PI;
    if(v===0)return;
    const d=`M${p.cx} ${p.cy}L${p.cx+p.r*Math.cos(a0)} ${p.cy+p.r*Math.sin(a0)}A${p.r} ${p.r} 0 ${a1-a0>Math.PI?1:0} 1 ${p.cx+p.r*Math.cos(a1)} ${p.cy+p.r*Math.sin(a1)}Z`;
    mk($('pies'),'path',{d,fill:pieColors[i],stroke:'#000','stroke-width':1.6},`pie${pi+1}-slice-${pieClasses[i].toLowerCase()}`);
  });
});
const pctSpots=[
 [[662,228],[659,252],[650,279],[629,318],[516,390],[319,305],[318,117],[483,26],[623,95],[654.5,153],[662,189]],
 [[1260,222],[1257.5,246],[1231,306],[1183,356],[1095,387],[964,346],[900.5,234],[1013,37],[1204,75],[1245.5,132],[1259.5,183]],
 [[1897.4,223],[1895,241],[1886,270],[1873,300],[1692,379],[1537,231],[1547,141],[1688,27],[1850,83],[1885.5,141],[1897,184]]];
pieGeom.forEach((p,pi)=>{
  p.labels.forEach((t,i)=>{
    mk($('pct'),'text',{class:'pc',x:pctSpots[pi][i][0],y:pctSpots[pi][i][1]+7},`pie${pi+1}-percent-${pieClasses[i].toLowerCase()}`,t);
  });
});

// ---------- stacks ----------
const stackColors=["#440099","#6600cc","#0000ff","#3f6fff","#33bbff","#cc0000","#993300","#999900","#777777","#662200","#336600"];
const stackNames=["other","bcocns","bcocn","bcn","bcns","bcocs","bcs","bb","tr","cc","mix"];
function drawStack(g,series,start,xf,yf,x0,x1,tag){
  const n=series[0].length;
  const days=[];
  for(let i=0;i<n;i++)days.push(start+i*0.5);
  mk(g,'rect',{x:x0,y:yf(1),width:x1-x0,height:yf(0)-yf(1),fill:stackColors[0]},`area-${tag}-other`);
  series.forEach((s,si)=>{
    let d=`M${Math.max(x0,xf(days[0]))} ${yf(0)}`;
    for(let i=0;i<n;i++)d+=`L${Math.min(x1,xf(days[i]))} ${yf(s[i])}`;
    d+=`L${x1} ${yf(s[n-1])}L${x1} ${yf(0)}Z`;
    mk(g,'path',{d,fill:stackColors[si+1]},`area-${tag}-${stackNames[si+1]}`);
  });
}
drawStack($('stackB'),[bBcocns,bBcocn,bBcn,bBcns,bBcocs,bBcs,bBb,bTr,bCc,bMix],bStackStart,xB,yFB,123,1945,'b');
drawStack($('stackC'),[cBcocns,cBcocn,cBcn,cBcns,cBcocs,cBcs,cBb,cTr,cCc,cMix],cStackStart,xC,yFC,117,1945,'c');

// ---------- lines (monotone cubic through the read points, no overshoot) ----------
function monoPath(xs,ys){
  const n=xs.length, s=[], m=[];
  for(let i=0;i<n-1;i++)s.push((ys[i+1]-ys[i])/((xs[i+1]-xs[i])||1));
  m.push(s[0]);
  for(let i=1;i<n-1;i++)m.push(s[i-1]*s[i]<=0?0:2*s[i-1]*s[i]/(s[i-1]+s[i]));
  m.push(s[n-2]);
  let d=`M${xs[0].toFixed(1)} ${ys[0].toFixed(1)}`;
  for(let i=0;i<n-1;i++){
    const h=(xs[i+1]-xs[i])/3;
    d+=`C${(xs[i]+h).toFixed(1)} ${(ys[i]+m[i]*h).toFixed(1)} ${(xs[i+1]-h).toFixed(1)} ${(ys[i+1]-m[i+1]*h).toFixed(1)} ${xs[i+1].toFixed(1)} ${ys[i+1].toFixed(1)}`;
  }
  return d;
}
function drawLine(g,days,vals,xf,yf,color,name){
  const d=monoPath(days.map(xf),vals.map(yf));
  mk(g,'path',{d,fill:'none',stroke:color,'stroke-width':2.1,'stroke-linejoin':'round'},name);
}

// ---------- axes ----------
const A=$('axes');
function seg(x1,y1,x2,y2,c,w,name){mk(A,'line',{x1,y1,x2,y2,stroke:c,'stroke-width':w},name);}
function lab(x,y,t,anchor,c,name){mk(A,'text',{class:'tick',x,y:y+9,'text-anchor':anchor,fill:c,style:'fill:'+c},name,t);}
function panel(o){
  seg(o.xl,o.base,1944,o.base,'#111',3,`baseline-${o.tag}`);
  seg(o.xl,o.axTop,o.xl,o.axBot,'#cc0000',2.5,`temperature-axis-${o.tag}`);
  seg(1944,o.yR(100),1944,o.yR(0),'#111',2.5,`rh-axis-${o.tag}`);
  o.tTicks.forEach(v=>{seg(97,o.yT(v),o.xl,o.yT(v),'#cc0000',2.5,`temperature-tick-${o.tag}`);
    lab(86,o.yT(v),String(v),'end','#dd0000',`temperature-tick-label-${o.tag}`);});
  o.tMinor.forEach(v=>seg(106,o.yT(v),o.xl,o.yT(v),'#cc0000',2.5,`temperature-minor-tick-${o.tag}`));
  rhTicks.forEach(v=>{seg(1944,o.yR(v),1956,o.yR(v),'#111',2.5,`rh-tick-${o.tag}`);
    lab(1964,o.yR(v),String(v),'start','#6600dd',`rh-tick-label-${o.tag}`);});
  fracTicks.forEach(v=>{seg(o.fx,o.yF(v),o.xl,o.yF(v),'#111',2.5,`fraction-tick-${o.tag}`);
    lab(98,o.yF(v),v.toFixed(1),'end','#000',`fraction-tick-label-${o.tag}`);});
  o.eTicks.forEach(v=>{seg(1945,o.yE(v),1956,o.yE(v),'#111',2.5,`ebc-tick-${o.tag}`);
    lab(1964,o.yE(v),String(v),'start','#000',`ebc-tick-label-${o.tag}`);});
  o.eMinor.forEach(v=>seg(1945,o.yE(v),1951,o.yE(v),'#111',2.5,`ebc-minor-tick-${o.tag}`));
  seg(o.xl,o.xAxis,1945,o.xAxis,'#111',3,`time-axis-${o.tag}`);
  o.xDays.forEach((d,i)=>{seg(o.x(d),o.xAxis,o.x(d),o.xAxis+13,'#111',2.2,`time-tick-${o.tag}`);
    lab(o.x(d)-1,o.xLabY,o.xLabels[i],'middle','#000',`time-tick-label-${o.tag}`);});
}
panel({tag:'b',xl:118,base:635,axTop:439,axBot:639,yT:yTB,yR:yRB,yF:yFB,yE:yEB,x:xB,tTicks:bTempTicks,tMinor:[-5,5,15,25],eTicks:bEbcTicks,eMinor:[],fx:105,xAxis:887,xDays:xTickDays,xLabels:bXLabels,xLabY:920});
panel({tag:'c',xl:117,base:1199.5,axTop:1015,axBot:1203,yT:yTC,yR:yRC,yF:yFC,yE:yEC,x:xC,tTicks:cTempTicks,tMinor:[],eTicks:cEbcTicks,eMinor:cEbcMinor,fx:97,xAxis:1436,xDays:cXTickDays,xLabels:cXLabels,xLabY:1471});

drawLine($('linesB'),bRhDays,bRh,xB,yRB,'#6600cc','rh-line-b');
drawLine($('linesB'),bTempDays,bTemp,xB,yTB,'#cc0000','temperature-line-b');
drawLine($('linesB'),bEbcDays,bEbc,xB,yEB,'#000000','ebc-line-b');
drawLine($('linesC'),cRhDays,cRh,xC,yRC,'#6600cc','rh-line-c');
drawLine($('linesC'),cTempDays,cTemp,xC,yTC,'#cc0000','temperature-line-c');
drawLine($('linesC'),cEbcDays,cEbc,xC,yEC,'#000000','ebc-line-c');
</script>
</body></html>
